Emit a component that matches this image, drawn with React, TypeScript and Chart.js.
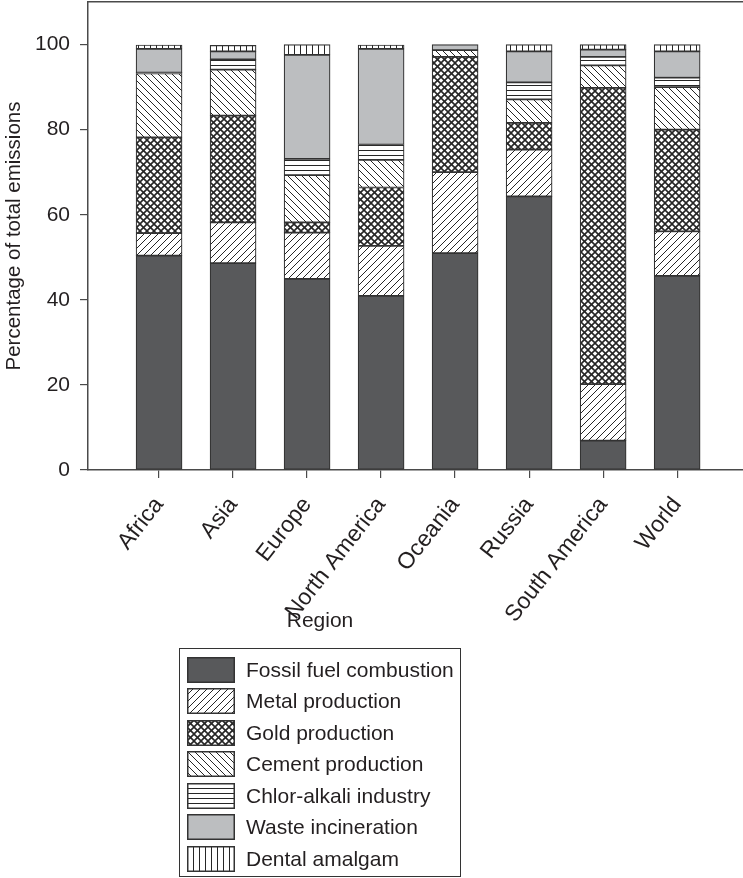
import React, { useEffect, useRef } from 'react';
import { Chart, registerables } from 'chart.js';

Chart.register(...registerables);

// ---- Data ----
const categories = ['Africa', 'Asia', 'Europe', 'North America', 'Oceania', 'Russia', 'South America', 'World'];
const fossilFuel = [50.4, 48.6, 44.9, 40.9, 51.0, 64.3, 6.9, 45.6];
const metalProduction = [5.3, 9.6, 10.9, 11.8, 19.0, 11.0, 13.3, 10.5];
const goldProduction = [22.5, 25.1, 2.4, 13.7, 27.1, 6.3, 69.6, 23.9];
const cementProduction = [15.0, 10.8, 11.1, 6.5, 1.6, 5.5, 5.3, 10.0];
const chlorAlkali = [0.2, 2.4, 3.8, 3.6, 0, 4.0, 2.0, 2.2];
const wasteIncineration = [5.6, 1.9, 24.5, 22.5, 1.3, 7.3, 1.7, 6.2];
const dentalAmalgam = [0.9, 1.4, 2.4, 0.9, 0, 1.6, 1.2, 1.6];
const seriesNames = [
  'Fossil fuel combustion',
  'Metal production',
  'Gold production',
  'Cement production',
  'Chlor-alkali industry',
  'Waste incineration',
  'Dental amalgam',
];
const yTickStep = 20;
const yMax = 110;

const FONT = '"Liberation Sans", Arial, Helvetica, sans-serif';
const TEXT = '#231f20';
const LINE = '#333333';
const AXIS = '#4a4a4a';
const kinds = ['dark', 'fwd', 'cross', 'back', 'horiz', 'light', 'vert'];

function makeFill(kind: string): string | CanvasPattern {
  if (kind === 'dark') return '#58595b';
  if (kind === 'light') return '#bcbec0';
  const c = document.createElement('canvas');
  let s = 7;
  if (kind === 'horiz') s = 5;
  if (kind === 'vert') s = 6;
  c.width = s;
  c.height = s;
  const g = c.getContext('2d')!;
  g.fillStyle = '#ffffff';
  g.fillRect(0, 0, s, s);
  g.strokeStyle = '#262626';
  g.fillStyle = '#262626';
  g.lineWidth = kind === 'cross' ? 1.6 : 1;
  const line = (x1: number, y1: number, x2: number, y2: number) => {
    g.beginPath();
    g.moveTo(x1, y1);
    g.lineTo(x2, y2);
    g.stroke();
  };
  if (kind === 'fwd' || kind === 'cross') {
    line(-1, s + 1, s + 1, -1);
    line(-1, 1, 1, -1);
    line(s - 1, s + 1, s + 1, s - 1);
  }
  if (kind === 'back' || kind === 'cross') {
    line(-1, -1, s + 1, s + 1);
    line(s - 1, -1, s + 1, 1);
    line(-1, s - 1, 1, s + 1);
  }
  if (kind === 'horiz') g.fillRect(0, 0, s, 1);
  if (kind === 'vert') g.fillRect(0, 0, 1, s);
  return g.createPattern(c, 'repeat')!;
}

function Swatch({ kind }: { kind: string }) {
  const ref = useRef<HTMLCanvasElement>(null);
  useEffect(() => {
    const cv = ref.current!;
    const g = cv.getContext('2d')!;
    g.fillStyle = makeFill(kind) as any;
    g.fillRect(0, 0, cv.width, cv.height);
    g.strokeStyle = LINE;
    g.lineWidth = 1.5;
    g.strokeRect(0.75, 0.75, cv.width - 1.5, cv.height - 1.5);
  }, [kind]);
  return <canvas ref={ref} width={48} height={26} style={{ display: 'block' }} />;
}

export default function App() {
  const canvasRef = useRef<HTMLCanvasElement>(null);

  useEffect(() => {
    const series = [fossilFuel, metalProduction, goldProduction, cementProduction, chlorAlkali, wasteIncineration, dentalAmalgam];
    const datasets = series.map((vals, k) => ({
      label: seriesNames[k],
      data: vals.map((v, i) => ({ x: i, y: v })),
      backgroundColor: makeFill(kinds[k]),
      borderColor: LINE,
      borderWidth: 1.2,
      borderSkipped: false as const,
      barThickness: 46,
      stack: 'all',
    }));
    const tickFont = { family: FONT, size: 21 };
    const chart = new Chart(canvasRef.current!, {
      type: 'bar',
      data: { datasets },
      options: {
        animation: false,
        responsive: false,
        maintainAspectRatio: false,
        layout: { padding: { left: 2, top: 2, right: 0, bottom: 0 } },
        plugins: { legend: { display: false }, tooltip: { enabled: false } },
        scales: {
          x: {
            type: 'linear',
            position: 'bottom',
            offset: false,
            min: -0.96,
            max: 7.89,
            grid: { display: true, offset: false, drawOnChartArea: false, drawTicks: true, tickLength: 8, color: AXIS, lineWidth: 1.2 },
            border: { display: true, color: AXIS, width: 1.5 },
            ticks: {
              stepSize: 1,
              includeBounds: false,
              autoSkip: false,
              minRotation: 52,
              maxRotation: 52,
              padding: 14,
              color: TEXT,
              font: { family: FONT, size: 23 },
              callback: (v: any) => (Number.isInteger(v) ? categories[v] ?? '' : ''),
            },
            afterFit: (s: any) => {
              s.height = 170;
              s.paddingLeft = 0;
              s.paddingRight = 0;
            },
          },
          xTop: {
            type: 'linear',
            position: 'top',
            offset: false,
            min: -0.96,
            max: 7.89,
            grid: { display: false, drawTicks: false, offset: false },
            ticks: { display: false },
            border: { display: true, color: AXIS, width: 1.5 },
            afterFit: (s: any) => {
              s.height = 0;
              s.paddingLeft = 0;
              s.paddingRight = 0;
            },
          },
          y: {
            stacked: true,
            min: 0,
            max: yMax,
            grid: { display: true, drawOnChartArea: false, drawTicks: true, tickLength: 8, color: AXIS, lineWidth: 1.2 },
            border: { display: true, color: AXIS, width: 1.5 },
            ticks: { stepSize: yTickStep, includeBounds: false, padding: 10, color: TEXT, font: tickFont },
            title: {
              display: true,
              text: 'Percentage of total emissions',
              color: TEXT,
              font: { family: FONT, size: 20.5 },
              padding: { top: 0, bottom: 0 },
            },
            afterFit: (s: any) => {
              s.width = 86;
              s.paddingTop = 0;
              s.paddingBottom = 0;
            },
          },
        },
      } as any,
    });
    return () => chart.destroy();
  }, []);

  return (
    <div style={{ position: 'absolute', left: 0, top: 0, width: 743, height: 878, overflow: 'hidden', background: '#fff' }}>
      <canvas ref={canvasRef} width={743} height={640} style={{ position: 'absolute', left: 0, top: 0 }} />
      <div
        style={{
          position: 'absolute',
          left: 240,
          width: 160,
          top: 607,
          textAlign: 'center',
          fontFamily: FONT,
          fontSize: 21,
          color: TEXT,
          lineHeight: '26px',
        }}
      >
        Region
      </div>
      <div
        style={{
          position: 'absolute',
          left: 179,
          top: 648,
          width: 282,
          height: 229,
          boxSizing: 'border-box',
          border: `1.5px solid ${LINE}`,
          paddingTop: 5,
          paddingLeft: 7,
        }}
      >
        {seriesNames.map((name, k) => (
          <div key={name} style={{ display: 'flex', alignItems: 'center', height: 31.5 }}>
            <Swatch kind={kinds[k]} />
            <span style={{ marginLeft: 11, fontFamily: FONT, fontSize: 21, color: TEXT, whiteSpace: 'nowrap' }}>{name}</span>
          </div>
        ))}
      </div>
    </div>
  );
}
